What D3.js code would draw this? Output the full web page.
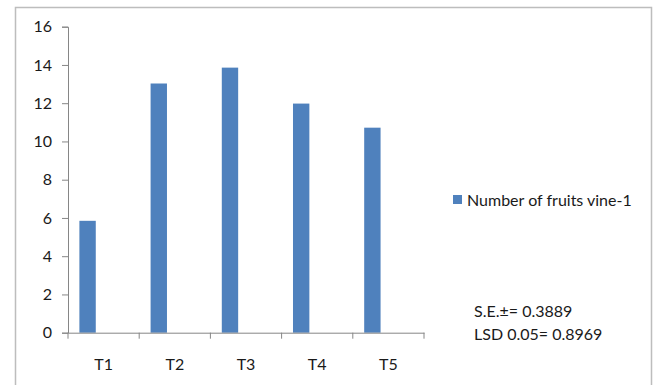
<!DOCTYPE html>
<html>
<head>
<meta charset="utf-8">
<script src="https://cdn.jsdelivr.net/npm/d3@7"></script>
<style>
  html, body { margin: 0; padding: 0; background: #fff; }
  svg { display: block; }
  text { font-family: Lato, "Open Sans", sans-serif; fill: #1a1a1a; }
</style>
</head>
<body>
<svg id="chart" width="656" height="385"></svg>
<script>
// Treatments and the mean number of fruits per vine
const categories = ["T1", "T2", "T3", "T4", "T5"];
const fruitsPerVine = [5.85, 13.03, 13.86, 11.98, 10.72];
const yTicks = [0, 2, 4, 6, 8, 10, 12, 14, 16];
const seriesName = "Number of fruits vine-1";
const statLines = ["S.E.\u00b1= 0.3889", "LSD 0.05= 0.8969"];

const svg = d3.select("#chart");
const barColor = "#4F81BD";
const axisColor = "#868686";
const fontFamily = "Lato, 'Open Sans', sans-serif";

// Outer chart frame (open at the bottom)
svg.append("path")
  .attr("d", "M15.5,385 V7.5 H651.5 V385")
  .attr("fill", "none")
  .attr("stroke", "#bdbdbd")
  .attr("stroke-width", 1.5);

const plot = { left: 68, right: 424, top: 26.7, bottom: 332.7 };

const x = d3.scaleBand()
  .domain(categories)
  .range([plot.left, plot.right])
  .paddingInner(0).paddingOuter(0);

const y = d3.scaleLinear()
  .domain([0, 16])
  .range([plot.bottom, plot.top]);

// Bars sit in the left part of each category slot
const bw = x.bandwidth();
svg.append("g").selectAll("rect")
  .data(categories.map((c, i) => ({ c, v: fruitsPerVine[i] })))
  .join("rect")
  .attr("x", d => x(d.c) + bw * 0.16)
  .attr("width", bw * 0.23)
  .attr("y", d => y(d.v))
  .attr("height", d => y(0) - y(d.v))
  .attr("fill", barColor);

// Y axis
const yAxis = svg.append("g")
  .attr("transform", `translate(${plot.left},0)`)
  .call(d3.axisLeft(y).tickValues(yTicks).tickSize(6).tickPadding(10).tickFormat(d3.format("d")));
yAxis.select(".domain").attr("stroke", axisColor);
yAxis.selectAll(".tick line").attr("stroke", axisColor);
yAxis.selectAll(".tick text").attr("font-size", 16).attr("fill", "#1a1a1a")
  .style("font-family", fontFamily);

// X axis with ticks on category boundaries
const xAxis = svg.append("g")
  .attr("transform", `translate(0,${plot.bottom})`)
  .call(d3.axisBottom(x).tickSize(0).tickPadding(26));
xAxis.select(".domain").attr("stroke", axisColor);
xAxis.selectAll(".tick text").attr("font-size", 16).attr("fill", "#1a1a1a")
  .style("font-family", fontFamily);
xAxis.append("g").selectAll("line")
  .data(categories.map(c => x(c)).concat([plot.right]))
  .join("line")
  .attr("x1", d => d).attr("x2", d => d)
  .attr("y1", 0).attr("y2", 6)
  .attr("stroke", axisColor);

// Legend
const legend = svg.append("g").attr("transform", "translate(453,195)");
legend.append("rect").attr("width", 9).attr("height", 9).attr("fill", barColor);
legend.append("text").attr("x", 14).attr("y", 10.5).attr("font-size", 16).text(seriesName);

// Statistics note
svg.append("g").selectAll("text")
  .data(statLines)
  .join("text")
  .attr("x", 474)
  .attr("y", (d, i) => 316.5 + i * 23.5)
  .attr("font-size", 16)
  .text(d => d);
</script>
</body>
</html>
